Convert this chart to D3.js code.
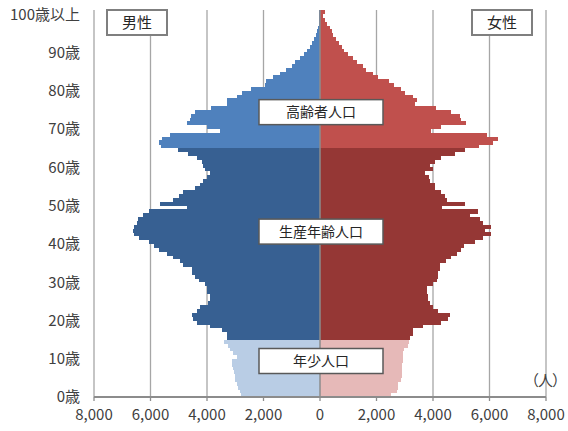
<!DOCTYPE html>
<html><head><meta charset="utf-8">
<script src="https://cdn.jsdelivr.net/npm/d3@7"></script>
<style>body{margin:0;background:#fff}svg{display:block}</style></head>
<body><svg id="c" width="568" height="431"></svg>
<script>
const ages = d3.range(0, 101);
const maleValues = [2800,2830,2900,2950,3000,3000,3040,3070,3130,3130,
  2950,3070,3190,3240,3400,3280,3300,3480,3890,4340,
  4480,4540,4340,4250,3950,3890,3890,4010,4010,4070,
  4270,4420,4540,4540,4840,4960,5190,5430,5690,5880,
  6050,6400,6580,6620,6600,6480,6450,6280,6040,4720,
  5660,5190,5000,4840,4420,4250,4130,4010,3890,4070,
  4130,4190,4370,4660,5020,5640,5700,5600,5300,3540,
  4000,4720,4600,4550,4420,3860,3280,3280,2950,2770,
  2460,1950,1900,1650,1400,1200,1000,870,720,580,
  460,350,290,210,150,100,70,50,30,20,20];
const femaleValues = [2500,2710,2770,2770,2860,2900,2920,2920,2920,2930,
  2950,2950,2970,3130,3160,3190,3280,3300,3660,4270,
  4540,4600,4190,4010,3890,3840,3840,3800,3800,4010,
  4130,4170,4190,4250,4250,4460,4630,4860,5000,5100,
  5490,5760,6040,5850,6040,5760,5660,5310,5580,4310,
  5150,4500,4420,4270,4060,4060,3900,3850,3710,3990,
  3910,4080,4290,4770,5120,5620,6140,6300,5900,3940,
  4280,5180,5000,4940,4650,4120,3370,3440,3290,3020,
  2850,2620,2430,2050,1870,1640,1520,1320,1170,990,
  850,780,690,570,460,420,340,260,170,110,170];
const xTicks = [-8000,-6000,-4000,-2000,0,2000,4000,6000,8000];
const ageTickAges = [0,10,20,30,40,50,60,70,80,90,100];
const ageTickLabels = ["0歳","10歳","20歳","30歳","40歳","50歳","60歳","70歳","80歳","90歳","100歳以上"];
const groupNames = ["年少人口","生産年齢人口","高齢者人口"];
const groupLabelAges = [9.4, 43.2, 74.4];
const sexLabels = ["男性","女性"];
const unitLabel = "（人）";
const maleColors = ["#B9CDE5","#376092","#4F81BD"];
const femaleColors = ["#E6B9B8","#953735","#C0504D"];

const groupOf = a => a < 15 ? 0 : (a < 65 ? 1 : 2);
const svg = d3.select("#c");
const font = "'Noto Sans CJK JP', 'Noto Sans', sans-serif";
svg.append("rect").attr("width",568).attr("height",431).attr("fill","#fff");

const x = d3.scaleLinear().domain([-8000, 8000]).range([94, 546]);
const y = d3.scaleBand().domain(ages).range([397, 10.3]).paddingInner(0).paddingOuter(0);
const yPos = d3.scaleLinear().domain([0, 101]).range([397, 10.3]);
const plotTop = 10, plotBottom = 397;

// gridlines
svg.append("g").selectAll("line").data(xTicks.filter(d => d !== 0)).join("line")
  .attr("x1", d => x(d)).attr("x2", d => x(d)).attr("y1", plotTop).attr("y2", plotBottom)
  .attr("stroke", "#a6a6a6").attr("stroke-width", 1.3);

// bars
const bars = svg.append("g").attr("shape-rendering","crispEdges");
bars.selectAll("rect.m").data(ages).join("rect").attr("class","m")
  .attr("x", a => x(-maleValues[a])).attr("width", a => x(0) - x(-maleValues[a]))
  .attr("y", a => y(a)).attr("height", y.bandwidth() + 0.3)
  .attr("fill", a => maleColors[groupOf(a)]);
bars.selectAll("rect.f").data(ages).join("rect").attr("class","f")
  .attr("x", x(0)).attr("width", a => x(femaleValues[a]) - x(0))
  .attr("y", a => y(a)).attr("height", y.bandwidth() + 0.3)
  .attr("fill", a => femaleColors[groupOf(a)]);

// center line
svg.append("line").attr("x1", x(0)).attr("x2", x(0)).attr("y1", plotTop).attr("y2", plotBottom)
  .attr("stroke", "#8c8c8c").attr("stroke-width", 1.5);

// x axis
const xAxis = svg.append("g");
xAxis.append("line").attr("x1", x(-8000)).attr("x2", x(8000)).attr("y1", plotBottom).attr("y2", plotBottom)
  .attr("stroke", "#8c8c8c").attr("stroke-width", 2);
xAxis.selectAll("line.t").data(xTicks).join("line").attr("class","t")
  .attr("x1", d => x(d)).attr("x2", d => x(d)).attr("y1", plotBottom).attr("y2", plotBottom + 4)
  .attr("stroke", "#8c8c8c").attr("stroke-width", 1.3);
xAxis.selectAll("text").data(xTicks).join("text")
  .attr("x", d => x(d)).attr("y", 420).attr("text-anchor","middle")
  .attr("font-family", font).attr("font-size", 15).attr("fill","#404040")
  .text(d => d3.format(",")(Math.abs(d)));

// y labels
svg.append("g").selectAll("text").data(ageTickAges).join("text")
  .attr("x", 80).attr("y", a => y(a) + y.bandwidth()).attr("dy","0.36em")
  .attr("text-anchor","end").attr("font-family", font).attr("font-size", 15).attr("fill","#404040")
  .text((a, i) => ageTickLabels[i]);

// unit
svg.append("text").attr("x", 524).attr("y", 381).attr("dy","0.36em")
  .attr("font-family", font).attr("font-size", 15).attr("fill","#404040")
  .attr("letter-spacing", "-1px").text(unitLabel);

// sex boxes
const sexBoxes = [{cx:137, t:sexLabels[0]}, {cx:502, t:sexLabels[1]}];
sexBoxes.forEach(b => {
  svg.append("rect").attr("x", b.cx - 30).attr("y", 10).attr("width", 60).attr("height", 25)
    .attr("fill","#fff").attr("stroke","#7f7f7f").attr("stroke-width",2);
  svg.append("text").attr("x", b.cx).attr("y", 22.5).attr("dy","0.36em").attr("text-anchor","middle")
    .attr("font-family", font).attr("font-size", 15).attr("fill","#262626").text(b.t);
});

// group boxes
groupNames.forEach((g, i) => {
  const cy = yPos(groupLabelAges[i]);
  svg.append("rect").attr("x", 259).attr("y", cy - 12.5).attr("width", 124).attr("height", 25)
    .attr("fill","#fff").attr("stroke","#595959").attr("stroke-width",1.5);
  svg.append("text").attr("x", 321).attr("y", cy).attr("dy","0.36em").attr("text-anchor","middle")
    .attr("font-family", font).attr("font-size", 14).attr("fill","#262626").text(g);
});
</script></body></html>
